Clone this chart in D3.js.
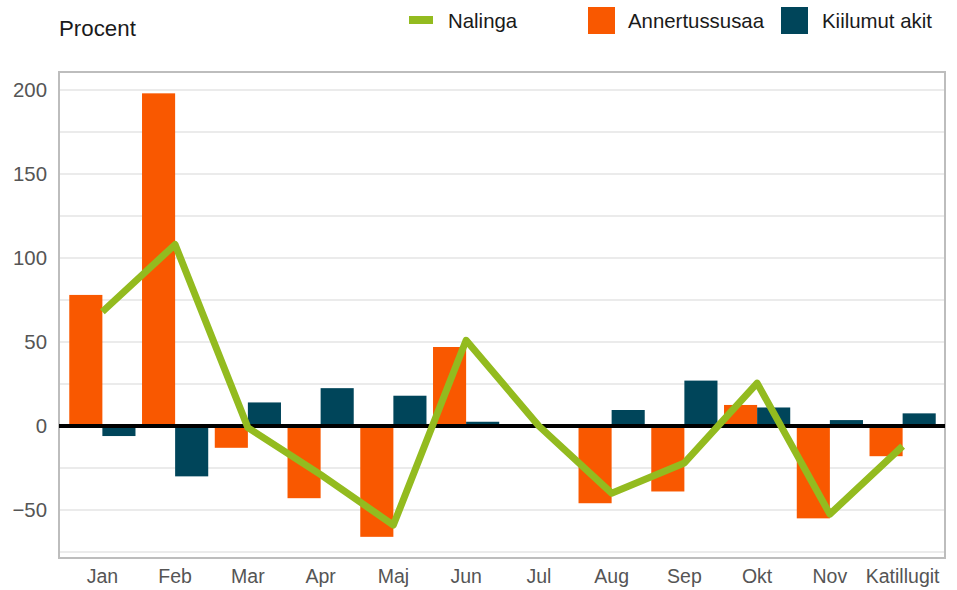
<!DOCTYPE html>
<html>
<head>
<meta charset="utf-8">
<script src="https://cdn.jsdelivr.net/npm/d3@7"></script>
<style>
  body { margin: 0; background: #fff; }
  text { font-family: "Liberation Sans", Arial, sans-serif; }
</style>
</head>
<body>
<div id="chart"></div>
<script>
var svgWidth = 957;
var svgHeight = 590;

// data
var months = ["Jan", "Feb", "Mar", "Apr", "Maj", "Jun", "Jul", "Aug", "Sep", "Okt", "Nov", "Katillugit"];
var annertussusaa = [78, 198, -13, -43, -66, 47, 0, -46, -39, 12.5, -55, -18];
var kiilumutAkit = [-6, -30, 14, 22.5, 18, 2.5, 0, 9.5, 27, 11, 3.5, 7.5];
var nalinga = [68, 108, -1, -29, -59, 51, 0, -40, -22, 25.5, -52.5, -12];
var yTicks = [-50, 0, 50, 100, 150, 200];

var colors = { orange: "#f95800", dark: "#00455a", green: "#93bb1f" };

var box = { left: 59, right: 945, top: 72, bottom: 558 };

var svg = d3.select("#chart").append("svg")
  .attr("width", svgWidth)
  .attr("height", svgHeight);

var yScale = d3.scaleLinear()
  .domain([-78.6, 210.7])
  .range([box.bottom, box.top]);

var xScale = d3.scaleBand()
  .domain(months)
  .range([66, 939])
  .paddingInner(0.09)
  .paddingOuter(0.045);

var x1 = d3.scaleBand()
  .domain(["a", "k"])
  .range([0, xScale.bandwidth()]);

// grid lines every 25
var gridVals = d3.range(-75, 226, 25).filter(v => yScale(v) >= box.top && yScale(v) <= box.bottom);
svg.append("g").selectAll("line")
  .data(gridVals).enter().append("line")
  .attr("x1", box.left).attr("x2", box.right)
  .attr("y1", d => yScale(d)).attr("y2", d => yScale(d))
  .attr("stroke", "#ebebeb")
  .attr("stroke-width", 2);

// plot frame
svg.append("rect")
  .attr("x", box.left).attr("y", box.top)
  .attr("width", box.right - box.left).attr("height", box.bottom - box.top)
  .attr("fill", "none")
  .attr("stroke", "#bdbdbd")
  .attr("stroke-width", 2);

// y axis labels
var yAxis = d3.axisLeft(yScale).tickValues(yTicks).tickSize(0).tickPadding(12)
  .tickFormat(d => d < 0 ? "\u2212" + Math.abs(d) : d);
var yG = svg.append("g").attr("transform", `translate(${box.left},0)`).call(yAxis);
yG.select(".domain").remove();
yG.selectAll("text").attr("font-size", 20.4).attr("fill", "#555")
  .attr("font-family", "'Liberation Sans', Arial, sans-serif");

// x axis labels
var xAxis = d3.axisBottom(xScale).tickSize(0).tickPadding(11);
var xG = svg.append("g").attr("transform", `translate(0,${box.bottom})`).call(xAxis);
xG.select(".domain").remove();
xG.selectAll("text").attr("font-size", 19.5).attr("fill", "#555")
  .attr("font-family", "'Liberation Sans', Arial, sans-serif");

// bars
var rows = months.map((m, i) => ({ m: m, a: annertussusaa[i], k: kiilumutAkit[i] }));

var groups = svg.append("g").selectAll("g")
  .data(rows).enter().append("g")
  .attr("transform", d => `translate(${xScale(d.m)},0)`);

groups.append("rect")
  .attr("x", x1("a"))
  .attr("width", x1.bandwidth())
  .attr("y", d => yScale(Math.max(0, d.a)))
  .attr("height", d => Math.abs(yScale(d.a) - yScale(0)))
  .attr("fill", colors.orange);

groups.append("rect")
  .attr("x", x1("k"))
  .attr("width", x1.bandwidth())
  .attr("y", d => yScale(Math.max(0, d.k)))
  .attr("height", d => Math.abs(yScale(d.k) - yScale(0)))
  .attr("fill", colors.dark);

// zero line
svg.append("line")
  .attr("x1", box.left).attr("x2", box.right)
  .attr("y1", yScale(0)).attr("y2", yScale(0))
  .attr("stroke", "#000")
  .attr("stroke-width", 4);

// line series
var line = d3.line()
  .x((d, i) => xScale(months[i]) + xScale.bandwidth() / 2)
  .y(d => yScale(d));

svg.append("path")
  .datum(nalinga)
  .attr("d", line)
  .attr("fill", "none")
  .attr("stroke", colors.green)
  .attr("stroke-width", 7)
  .attr("stroke-linejoin", "round");

// title
svg.append("text")
  .attr("x", 59).attr("y", 36)
  .attr("font-size", 22.3)
  .attr("fill", "#1a1a1a")
  .text("Procent");

// legend
var legend = svg.append("g");
legend.append("rect").attr("x", 409).attr("y", 16).attr("width", 24).attr("height", 8).attr("fill", colors.green);
legend.append("text").attr("x", 448).attr("y", 28).attr("font-size", 20.4).attr("fill", "#1a1a1a").text("Nalinga");
legend.append("rect").attr("x", 588).attr("y", 7).attr("width", 27).attr("height", 27).attr("fill", colors.orange);
legend.append("text").attr("x", 628).attr("y", 28).attr("font-size", 20.4).attr("fill", "#1a1a1a").text("Annertussusaa");
legend.append("rect").attr("x", 781).attr("y", 7).attr("width", 27).attr("height", 27).attr("fill", colors.dark);
legend.append("text").attr("x", 822).attr("y", 28).attr("font-size", 20.4).attr("fill", "#1a1a1a").text("Kiilumut akit");
</script>
</body>
</html>
